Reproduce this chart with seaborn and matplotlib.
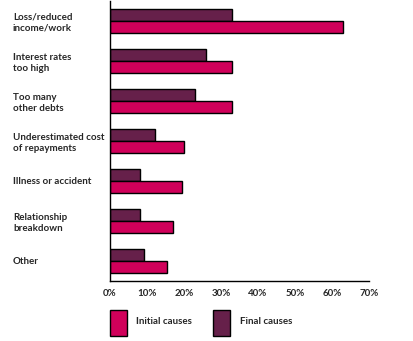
import matplotlib
matplotlib.use("Agg")
import matplotlib.pyplot as plt
import seaborn as sns
import pandas as pd
from matplotlib.patches import Rectangle
from matplotlib.ticker import FixedLocator

categories = ["Loss/reduced\nincome/work", "Interest rates\ntoo high", "Too many\nother debts",
              "Underestimated cost\nof repayments", "Illness or accident",
              "Relationship\nbreakdown", "Other"]
initial_causes = [63, 33, 33, 20, 19.4, 17, 15.3]
final_causes = [33, 26, 23, 12.2, 8, 8, 9.3]
series = ["Final causes", "Initial causes"]
colors = {"Initial causes": "#D0005A", "Final causes": "#66204A"}
xticks = [0, 10, 20, 30, 40, 50, 60, 70]

df = pd.DataFrame({
    "cause": categories * 2,
    "value": final_causes + initial_causes,
    "series": ["Final causes"] * len(categories) + ["Initial causes"] * len(categories),
})

sns.set_style("white")
plt.rcParams["font.family"] = ["Lato", "DejaVu Sans"]

W, H = 413, 341
fig = plt.figure(figsize=(W / 100, H / 100), dpi=100)
ax = fig.add_axes([110 / W, 1 - 281 / H, (369 - 110) / W, 280 / H])

sns.barplot(data=df, y="cause", x="value", hue="series", hue_order=series,
            order=categories, palette=colors, orient="h", width=0.6, saturation=1,
            edgecolor="black", linewidth=1.0, ax=ax, legend=False)

ax.set_xlim(0, 70)
ax.set_ylim(len(categories) - 0.5, -0.5)
ax.set_xlabel("")
ax.set_ylabel("")
ax.set_xticks(xticks)
ax.set_xticklabels([f"{t}%" for t in xticks], fontsize=7, fontweight="bold")
ax.tick_params(axis="x", direction="out", length=4, width=1, color="black", pad=2)

ax.yaxis.set_major_locator(FixedLocator(range(len(categories))))
ax.set_yticklabels(categories, fontsize=7, fontweight="bold", linespacing=1.25)
ax.yaxis.set_minor_locator(FixedLocator([i - 0.5 for i in range(len(categories) + 1)]))
ax.tick_params(axis="y", which="major", length=0, pad=97 * 0.72)
ax.tick_params(axis="y", which="minor", direction="out", length=4, width=1, color="black")
for lab in ax.get_yticklabels():
    lab.set_horizontalalignment("left")
    lab.set_multialignment("left")

for s in ["top", "right"]:
    ax.spines[s].set_visible(False)
for s in ["left", "bottom"]:
    ax.spines[s].set_color("black")
    ax.spines[s].set_linewidth(1)

# legend
leg_items = [("Initial causes", 110, 136), ("Final causes", 213, 240)]
for name, px, tx in leg_items:
    fig.add_artist(Rectangle((px / W, 1 - 336 / H), 17 / W, 26 / H, transform=fig.transFigure,
                             facecolor=colors[name], edgecolor="black", linewidth=1))
    fig.text(tx / W, 1 - 322 / H, name, fontsize=7, fontweight="bold", va="center", ha="left")

fig.savefig("out.png", dpi=100)
